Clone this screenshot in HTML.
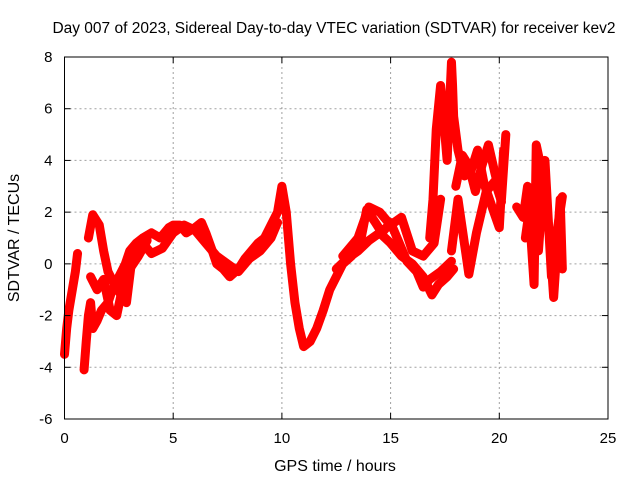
<!DOCTYPE html>
<html><head><meta charset="utf-8"><style>
html,body{margin:0;padding:0;background:#fff;}
svg{display:block;font-family:"Liberation Sans",sans-serif;}
</style></head><body>
<svg id="chart" width="640" height="480">
<text x="334" y="33" font-size="15.5" text-anchor="middle">Day 007 of 2023, Sidereal Day-to-day VTEC variation (SDTVAR) for receiver kev2</text>
<text x="335" y="471" font-size="16" text-anchor="middle">GPS time / hours</text>
<text transform="translate(19,238) rotate(-90)" font-size="16" text-anchor="middle">SDTVAR / TECUs</text>
<g id="grid"></g><g id="marks"></g><g id="axes"></g>
</svg>
<script>
const xTicks=[0,5,10,15,20,25];
const yTicks=[-6,-4,-2,0,2,4,6,8];
const t1=[0.9,1.0,1.1,1.2,1.3,1.5,1.7,2.0,2.2,2.5,2.8,3.0,3.3,3.6,4.0,4.4,4.8,5.0,5.3,5.6,6.0,6.3,6.5,6.8,7.0,7.3,7.6,8.0,8.3,8.6,8.9,9.2,9.5,9.8,10.0,10.2,10.4,10.6,10.8,11.0,11.3,11.6,11.9,12.2,12.5,12.8,13.2,13.6,13.9,14.3,14.6,15.0,15.3,15.75,16.2,16.5,16.8,17.3,17.8];
const v1=[-4.1,-3.0,-2.0,-1.5,-2.5,-2.2,-1.8,-1.5,-1.0,-0.5,0,0.5,0.8,1.0,1.2,1.0,1.4,1.5,1.5,1.2,1.4,1.6,1.2,0.5,0,-0.2,-0.5,-0.2,0.2,0.5,0.8,1.0,1.5,2.0,3.0,2.0,0,-1.5,-2.5,-3.2,-3.0,-2.5,-1.8,-1.0,-0.5,0,0.3,0.8,2.1,1.6,1.2,1.6,1.0,0.1,-0.3,-0.9,-0.6,-0.3,0.1];
const t2=[1.1,1.3,1.6,1.8,2.0,2.3,2.6,2.85,3.1,3.5,4.0,4.5,5.0,5.5,6.0,6.5,7.0,7.5,8.0,8.5,9.0,9.5,9.8];
const v2=[1.0,1.9,1.5,0.5,-0.3,-0.8,-1.2,-1.5,0.2,0.9,0.4,0.6,1.2,1.5,1.3,0.8,0.3,0,-0.3,0.2,0.5,1.0,1.6];
const t3=[0.0,0.1,0.2,0.5,0.6];
const v3=[-3.5,-2.5,-1.8,-0.3,0.4];
const t4=[16.8,16.95,17.1,17.3,17.4,17.6,17.8,17.85,17.9,18.1,18.4,18.7,19.0,19.3,19.75,20.0,20.2];
const v4=[1.0,2.5,5.2,6.9,6.0,4.0,7.8,6.9,5.7,4.4,3.4,3.6,4.4,3.1,2.0,1.4,4.4];
const t5=[17.8,18.1,18.6,18.95,19.4,19.8,20.1];
const v5=[0.5,2.5,-0.4,1.2,2.8,3.2,2.4];
const t6=[20.8,21.1,21.3,21.6,21.7,22.0,22.3,22.5,22.8,22.9];
const v6=[2.2,1.8,3.0,-0.8,4.6,3.4,1.2,-1.3,2.5,-0.2];
const t7=[21.2,21.5,21.8,22.1,22.4,22.7,22.9];
const v7=[1.0,2.8,0.5,4.0,-0.5,1.5,2.6];
const t8=[12.8,13.5,14.0,14.5,15.0,15.5,16.0,16.5,17.0,17.3];
const v8=[0.3,1.0,2.2,2.0,1.5,1.8,0.5,0.3,0.8,2.5];
const t9=[12.5,13.0,13.5,14.0,14.5,15.0,15.5,16.0,16.5,16.9,17.2,17.6,17.9];
const v9=[-0.2,0.2,0.5,0.9,1.2,0.8,0.3,0,-0.5,-1.2,-0.8,-0.5,-0.2];
const t10=[18.0,18.3,18.6,18.9,19.2,19.5,19.8,20.1,20.3];
const v10=[3.0,4.2,3.8,2.8,3.8,4.6,3.5,2.5,5.0];
const t11=[1.2,1.5,1.8,2.1,2.4,2.7,3.0,3.4,3.8];
const v11=[-0.5,-1.0,-0.6,-1.8,-2.0,-0.8,-0.2,0.3,0.9];
const tracks=[[t1,v1],[t2,v2],[t3,v3],[t4,v4],[t5,v5],[t6,v6],[t7,v7],[t8,v8],[t9,v9],[t10,v10],[t11,v11]];
const X0=64.5,X1=608,Y0=419,Y1=57;
const xs=v=>X0+(v-0)/25*(X1-X0);
const ys=v=>Y0-(v+6)/14*(Y0-Y1);
const NS="http://www.w3.org/2000/svg";
function mk(tag,attrs,parent){const e=document.createElementNS(NS,tag);for(const k in attrs)e.setAttribute(k,attrs[k]);parent.appendChild(e);return e;}
const grid=document.getElementById('grid'),axes=document.getElementById('axes'),marks=document.getElementById('marks');
xTicks.forEach(v=>{
 if(v>0&&v<25){const g=mk('line',{x1:xs(v),x2:xs(v),y1:Y0,y2:Y1,stroke:'#a0a0a0','stroke-dasharray':'2,3'},grid);
 
 }
 mk('line',{x1:xs(v),x2:xs(v),y1:Y0,y2:Y0-6,stroke:'#000'},axes);
 mk('line',{x1:xs(v),x2:xs(v),y1:Y1,y2:Y1+6,stroke:'#000'},axes);
 const t=mk('text',{x:xs(v),y:Y0+24,'font-size':15,'text-anchor':'middle'},axes);t.textContent=v;
 
 
});
yTicks.forEach(v=>{
 if(v>-6&&v<8){const g=mk('line',{x1:X0,x2:X1,y1:ys(v),y2:ys(v),stroke:'#a0a0a0','stroke-dasharray':'2,3'},grid);
 
 }
 mk('line',{x1:X0,x2:X0+6,y1:ys(v),y2:ys(v),stroke:'#000'},axes);
 mk('line',{x1:X1,x2:X1-6,y1:ys(v),y2:ys(v),stroke:'#000'},axes);
 const t=mk('text',{x:X0-12,y:ys(v)+5,'font-size':15,'text-anchor':'end'},axes);t.textContent=v;
 
 
});
const fr=mk('rect',{x:X0,y:Y1,width:X1-X0,height:Y0-Y1,fill:'none',stroke:'#000','stroke-width':1},axes);


tracks.forEach(([ts,vs])=>{
 const pl=mk('polyline',{points:ts.map((t,i)=>xs(t)+','+ys(vs[i])).join(' '),fill:'none',stroke:'#ff0000','stroke-width':9,'stroke-linejoin':'round','stroke-linecap':'round'},marks);
 
 
 ts.forEach((t,i)=>{
  const x=xs(t),y=ys(vs[i]);
  const p=mk('path',{d:`M${x-4},${y}H${x+4}M${x},${y-4}V${y+4}`,stroke:'#ff0000','stroke-width':1.5},marks);
  
  
 });
});
</script>
</body></html>
